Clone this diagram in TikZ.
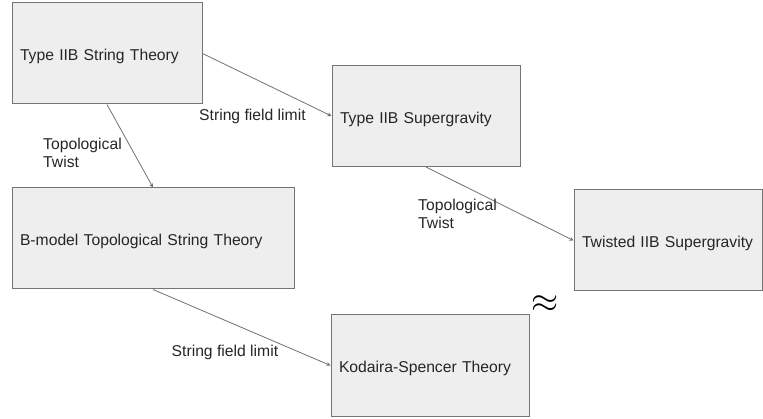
\documentclass[tikz,border=0pt]{standalone}
\usepackage{fontspec}
\setmainfont{Liberation Sans}
\usepackage{tikz}
\usetikzlibrary{arrows,positioning}

\definecolor{boxfill}{HTML}{EEEEEE}
\definecolor{boxline}{HTML}{747474}
\definecolor{arrowline}{HTML}{707070}

\begin{document}
\begin{tikzpicture}[
			x=1pt, y=-1pt,
			every node/.style={font=\fontsize{15.7}{18}\selectfont, text=black!85},
			box/.style={draw=boxline, fill=boxfill, line width=1pt, minimum height=101pt, inner xsep=8pt, text height=27pt, text depth=12pt, align=left},
			lbl/.style={inner sep=0pt, align=left},
			conn/.style={draw=arrowline, line width=0.8pt, ->, >=stealth}
			]

			\useasboundingbox (0,0) rectangle (763,419);

			\node[box, text width=174pt] (iib) at (107,53.5) {Type IIB String Theory};
			\node[box, text width=172pt] (sugra) at (426,116) {Type IIB Supergravity};
			\node[box, text width=266pt] (bmodel) at (153,238.5) {B-model Topological String Theory};
			\node[box, text width=182pt] (ks) at (430,365.5) {Kodaira-Spencer Theory};
			\node[box, text width=172pt] (twsugra) at (668,240.5) {Twisted IIB Supergravity};

			\draw[conn] (iib.east) -- (sugra.west);
			\draw[conn] (iib.south) -- (bmodel.north);
			\draw[conn] (sugra.south) -- (twsugra.west);
			\draw[conn] (bmodel.south) -- (ks.west);

			\node[lbl, anchor=base west] (sfltop) at (199,120.7) {String field limit};
			\node[lbl, anchor=base west] (sflbot) at (171.5,356.7) {String field limit};
			\node[lbl, anchor=north west] (twleft) at (43,137.5) {Topological\\Twist};
			\node[lbl, anchor=north west] (twright) at (418,199.2) {Topological\\Twist};

			\node[font=\fontsize{24.88}{26}\selectfont, scale=1.4, text=black] (approx) at (545,304) {$\approx$};

			\end{tikzpicture}
\end{document}
